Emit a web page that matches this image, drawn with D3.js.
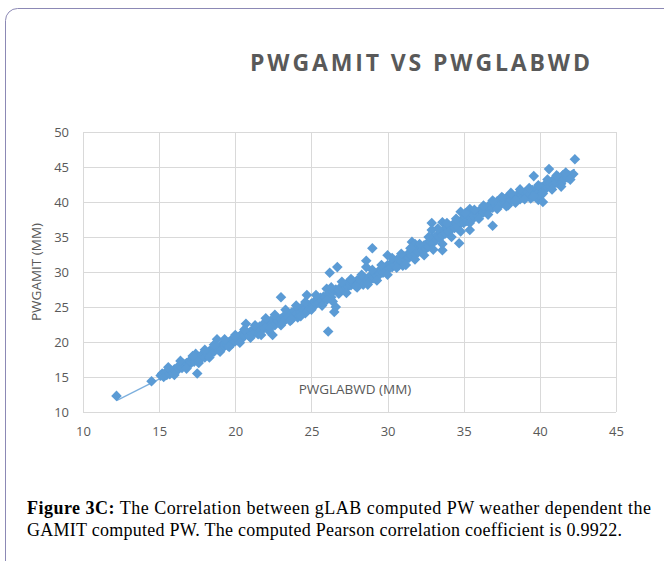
<!DOCTYPE html>
<html>
<head>
<meta charset="utf-8">
<script src="https://cdn.jsdelivr.net/npm/d3@7"></script>
<style>
  html, body { margin: 0; padding: 0; background: #ffffff; }
  svg { display: block; }
</style>
</head>
<body>
<div id="chart"></div>
<script>
// ---- DATA ----
const chartTitle = "PWGAMIT VS PWGLABWD";
const xAxisTitle = "PWGLABWD (MM)";
const yAxisTitle = "PWGAMIT (MM)";
const xTicks = [10, 15, 20, 25, 30, 35, 40, 45];
const yTicks = [10, 15, 20, 25, 30, 35, 40, 45, 50];
const captionBold = "Figure 3C:";
const captionLine1 = " The Correlation between gLAB computed PW weather dependent the";
const captionLine2 = "GAMIT computed PW. The computed Pearson correlation coefficient is 0.9922.";

// [PWGLABWD, PWGAMIT] pairs (mm)
const lowRange = [
  [12.2,12.3],[14.5,14.4],[15.1,15.2],[15.2,15.5],[15.3,15.0],[15.4,15.6],[15.5,15.3],[15.6,15.8],
  [15.7,15.4],[15.8,15.9],[15.9,15.6],[16.0,16.1],[16.1,15.8],[16.2,16.4],[16.3,16.2],[16.4,16.6],
  [16.5,16.3],[16.6,16.9],[16.7,16.6],[16.8,17.0],[16.9,16.8],[17.0,17.3],[17.1,17.0],[17.2,17.5],
  [17.3,17.2],[17.4,18.3],[17.5,17.6],[17.5,15.5],[17.6,17.9],[17.7,17.5],[17.8,18.1],[17.9,18.4],
  [18.0,17.8],[18.1,18.5],[18.2,18.2],[18.3,18.7],[18.4,18.4],[18.5,19.0],[18.6,18.6],[18.7,19.2],
  [18.8,20.4],[18.9,18.9],[19.0,19.3],[19.1,19.6],[19.2,19.2],[19.3,19.7],[19.4,19.9],[19.5,19.5],
  [19.6,20.0],[19.7,20.2],[19.8,19.8],[19.9,20.4],[20.0,20.1],[20.1,20.6],[20.2,20.3],[20.3,20.8],
  [20.4,21.1],[20.5,20.6],[20.6,21.0],[20.7,22.6],[20.8,21.3],[20.9,20.9],[21.0,21.5],[21.1,21.2],
  [21.2,21.8],[21.3,21.4],[21.4,22.0],[21.5,21.1],[21.6,22.2],[21.7,21.7],[21.8,22.5],[21.9,22.0],
  [22.0,22.8],[22.1,22.3],[22.2,21.6],[22.3,23.0],[22.4,22.6],[22.45,21.0],[22.5,23.2],[22.6,22.4],
  [22.7,23.5],[22.8,23.0],[23.0,26.4],[23.0,23.3],[23.1,22.8],[23.2,23.7],[23.3,23.2],[23.4,24.0],
  [23.5,23.5],[23.6,23.0],[23.7,24.2],[23.8,23.8],[23.9,24.5],[24.0,24.0],[24.1,23.5],[24.2,24.7],
  [24.3,24.3],[24.4,25.0],[24.5,24.6],[24.6,24.1],[24.7,26.7],[24.8,25.2],[24.9,24.8],[25.0,25.5],
  [25.1,25.1],[25.2,25.8],[25.3,25.4],[25.4,26.0],[25.5,25.6],[25.6,26.3],[25.7,25.9],[25.8,26.5],
  [25.9,26.4],[26.0,27.6],[26.1,21.5],[26.1,26.8],[26.2,29.9],[26.3,26.4],[26.4,25.8],[26.4,27.2],
  [26.5,24.3],[26.6,25.0],[26.6,27.5],[26.7,30.7],[26.8,26.9],[26.9,27.8]
];
const midRange = [
  [27.0,27.4],[27.1,28.0],[27.2,27.6],[27.3,28.3],[27.4,27.9],[27.5,28.5],[27.6,28.1],[27.7,28.7],
  [27.8,28.3],[27.9,28.0],[28.0,28.8],[28.1,28.4],[28.2,29.0],[28.3,28.6],[28.4,28.2],[28.5,29.1],
  [28.6,31.6],[28.6,30.7],[28.7,28.8],[28.8,29.3],[28.9,28.9],[29.0,33.4],[29.0,29.5],[29.1,29.1],
  [29.2,29.8],[29.3,29.4],[29.4,30.1],[29.5,29.7],[29.6,30.3],[29.7,29.9],[29.8,30.6],[29.9,30.2],
  [30.0,32.4],[30.0,31.0],[30.1,30.5],[30.3,31.4],[30.3,30.7],[30.4,31.4],[30.5,31.0],[30.6,31.7],
  [30.7,31.3],[30.8,32.0],[30.9,31.5],[31.0,30.9],[31.1,32.2],[31.2,31.8],[31.3,32.5],[31.4,32.0],
  [31.5,32.7],[31.6,34.3],[31.6,32.3],[31.7,33.0],[31.8,34.0],[31.8,32.6],[31.9,33.3],[32.0,32.8],
  [32.2,33.5],[32.3,33.1],[32.4,33.8],[32.5,33.3],[32.6,34.1],[32.7,33.6],[32.8,34.4],[32.9,37.0],
  [32.9,36.0],[32.9,34.9],[33.0,34.2],[33.1,35.0],[33.2,34.6],[33.3,35.3],[33.4,34.9],[33.5,35.6],
  [33.6,37.1],[33.6,33.1],[33.6,35.2],[33.7,36.0],[33.8,35.5],[33.9,36.3],[34.0,35.8],[34.1,36.5],
  [34.2,36.1],[34.3,36.8],[34.4,36.3],[34.5,37.0],[34.6,36.5],[34.7,34.1],[34.7,37.2],[34.8,38.6],
  [34.9,37.5],[35.0,37.0],[35.1,37.8],[35.2,37.3],[35.3,38.0],[35.4,36.0],[35.4,39.0]
];
const highRange = [
  [35.5,37.6],[35.6,38.2],[35.7,37.8],[35.8,38.5],[35.9,38.1],[36.0,38.7],[36.1,38.3],[36.2,39.0],
  [36.3,38.5],[36.4,39.2],[36.5,38.8],[36.6,39.4],[36.7,39.0],[36.8,39.7],[36.9,36.6],[36.9,39.2],
  [37.0,39.9],[37.1,39.5],[37.2,40.1],[37.3,39.7],[37.4,40.3],[37.5,39.8],[37.6,40.5],[37.7,40.0],
  [37.8,40.6],[37.9,39.5],[38.0,40.8],[38.1,40.3],[38.2,41.0],[38.3,40.5],[38.4,39.9],[38.5,40.7],
  [38.6,41.2],[38.7,40.4],[38.8,41.0],[38.9,40.6],[39.0,41.3],[39.1,40.8],[39.2,41.5],[39.3,41.0],
  [39.4,40.5],[39.5,41.7],[39.6,43.7],[39.7,41.2],[39.8,41.9],[39.9,40.3],[39.9,41.4],[40.0,40.9],
  [40.1,42.1],[40.2,40.0],[40.2,41.6],[40.3,42.4],[40.4,41.9],[40.5,42.7],[40.6,44.7],[40.7,42.2],
  [40.8,43.0],[40.9,42.5],[41.0,43.3],[41.1,42.8],[41.2,43.6],[41.3,43.1],[41.4,42.6],[41.5,43.8],
  [41.6,43.3],[41.7,44.0],[41.8,43.5],[41.9,43.8],[42.2,44.0],[42.3,46.1]
];
// wider scatter around the main band
const spreadRange = [
  [15.6,16.4],[16.0,15.3],[16.4,17.3],[16.8,16.2],[17.2,18.0],[17.6,17.0],[18.0,18.9],[18.3,17.8],
  [18.6,19.6],[19.0,18.6],[19.3,20.4],[19.6,19.3],[20.0,21.0],[20.3,19.9],[20.6,21.8],[21.0,20.6],
  [21.3,22.4],[21.7,21.0],[22.0,23.4],[22.3,22.0],[22.6,23.9],[23.0,22.4],[23.3,24.6],[23.7,23.2],
  [24.0,25.2],[24.3,23.7],[24.6,25.7],[25.0,24.6],[25.3,26.7],[25.7,25.2],[26.0,26.0],[26.3,27.8],
  [26.8,27.4],[27.0,28.6],[27.3,27.0],[27.6,29.0],[28.0,27.8],[28.3,29.6],[28.7,28.2],[29.0,30.3],
  [29.3,28.8],[29.6,31.0],[30.0,29.6],[30.3,32.0],[30.6,30.6],[30.9,32.6],[31.2,31.0],[31.5,33.4],
  [31.8,31.8],[32.1,34.0],[32.4,32.4],[32.7,35.0],[33.0,33.2],[33.3,36.2],[33.6,34.0],[33.9,37.0],
  [34.2,35.0],[34.5,37.6],[34.8,35.8],[35.1,38.4],[35.4,37.0],[35.7,38.9],[36.0,37.6],[36.3,39.5],
  [36.6,38.2],[36.9,40.2],[37.2,39.0],[37.5,40.7],[37.8,39.4],[38.1,41.3],[38.4,40.2],[38.7,41.8],
  [39.0,40.4],[39.3,42.0],[39.6,40.8],[39.9,42.4],[40.2,41.2],[40.5,43.2],[40.8,41.8],[41.1,43.8],
  [41.4,42.2],[41.7,44.2],[42.0,43.2]
];

// ---- LAYOUT ----
const W = 664, H = 561;
const color = "#5b9bd5";
const textColor = "#595959";
const gridColor = "#d9d9d9";
const points = lowRange.concat(midRange, highRange, spreadRange);

const svg = d3.select("#chart").append("svg").attr("width", W).attr("height", H);

// frame
svg.append("rect")
  .attr("x", 5.5).attr("y", 8.5).attr("width", 720).attr("height", 620)
  .attr("rx", 12).attr("ry", 12)
  .attr("fill", "none").attr("stroke", "#8c89b5").attr("stroke-width", 1);

const x = d3.scaleLinear().domain([10, 45]).range([83, 616]);
const y = d3.scaleLinear().domain([10, 50]).range([412, 132]);

// grid
const g = svg.append("g");
g.selectAll("line.v").data(xTicks).join("line")
  .attr("x1", d => Math.round(x(d)) + 0.5).attr("x2", d => Math.round(x(d)) + 0.5)
  .attr("y1", y(50)).attr("y2", y(10))
  .attr("stroke", gridColor).attr("stroke-width", 1);
g.selectAll("line.h").data(yTicks).join("line")
  .attr("y1", d => Math.round(y(d)) + 0.5).attr("y2", d => Math.round(y(d)) + 0.5)
  .attr("x1", x(10)).attr("x2", x(45))
  .attr("stroke", gridColor).attr("stroke-width", 1);

// axes (labels only, via d3 axes)
const fontFam = "'Open Sans', Lato, sans-serif";
const xAxis = svg.append("g").attr("transform", `translate(0,${y(10)})`)
  .call(d3.axisBottom(x).tickValues(xTicks).tickSize(0).tickPadding(15));
xAxis.select(".domain").remove();
xAxis.selectAll("text").attr("fill", textColor).attr("font-size", 13).attr("font-family", fontFam);

const yAxis = svg.append("g").attr("transform", `translate(${x(10)},0)`)
  .call(d3.axisLeft(y).tickValues(yTicks).tickSize(0).tickPadding(14));
yAxis.select(".domain").remove();
yAxis.selectAll("text").attr("fill", textColor).attr("font-size", 13).attr("font-family", fontFam);

// trendline (least squares)
const mx = d3.mean(points, d => d[0]), my = d3.mean(points, d => d[1]);
const slope = d3.sum(points, d => (d[0] - mx) * (d[1] - my)) / d3.sum(points, d => (d[0] - mx) ** 2);
const icpt = my - slope * mx;
const xr = d3.extent(points, d => d[0]);
svg.append("line")
  .attr("x1", x(xr[0])).attr("y1", y(icpt + slope * xr[0]))
  .attr("x2", x(xr[1])).attr("y2", y(icpt + slope * xr[1]))
  .attr("stroke", color).attr("stroke-width", 1.2).attr("opacity", 0.8);

// markers
const sym = d3.symbol(d3.symbolSquare, 56);
svg.append("g").selectAll("path").data(points).join("path")
  .attr("d", sym)
  .attr("transform", d => `translate(${x(d[0])},${y(d[1])}) rotate(45)`)
  .attr("fill", color);

// title
svg.append("text")
  .attr("x", 420).attr("y", 71)
  .attr("text-anchor", "middle")
  .attr("font-family", fontFam).attr("font-weight", "bold").attr("font-size", 23)
  .attr("fill", textColor)
  .attr("textLength", 340).attr("lengthAdjust", "spacing")
  .text(chartTitle);

// axis titles
svg.append("text")
  .attr("x", 355).attr("y", 394)
  .attr("text-anchor", "middle")
  .attr("font-family", fontFam).attr("font-size", 13.5).attr("fill", textColor)
  .text(xAxisTitle);

svg.append("text")
  .attr("transform", "translate(41,272) rotate(-90)")
  .attr("text-anchor", "middle")
  .attr("font-family", fontFam).attr("font-size", 13.5).attr("fill", textColor)
  .text(yAxisTitle);

// clipped fragment of a glyph below the x axis (cropped in original)
svg.append("clipPath").attr("id", "cut").append("rect")
  .attr("x", 330).attr("y", 455).attr("width", 30).attr("height", 8);
svg.append("text")
  .attr("x", 345).attr("y", 470).attr("text-anchor", "middle")
  .attr("clip-path", "url(#cut)")
  .attr("font-family", fontFam).attr("font-size", 13).attr("fill", textColor)
  .text("o");

// caption
const serif = "'Liberation Serif', 'Times New Roman', serif";
const cap = svg.append("text")
  .attr("x", 27).attr("y", 514)
  .attr("font-family", serif)
  .attr("font-size", 18).attr("fill", "#000")
  .attr("textLength", 624).attr("lengthAdjust", "spacing");
cap.append("tspan").attr("font-weight", "bold").text(captionBold);
cap.append("tspan").text(captionLine1);

svg.append("text")
  .attr("x", 27).attr("y", 536)
  .attr("font-family", serif)
  .attr("font-size", 18).attr("fill", "#000")
  .attr("textLength", 595).attr("lengthAdjust", "spacing")
  .text(captionLine2);
</script>
</body>
</html>
